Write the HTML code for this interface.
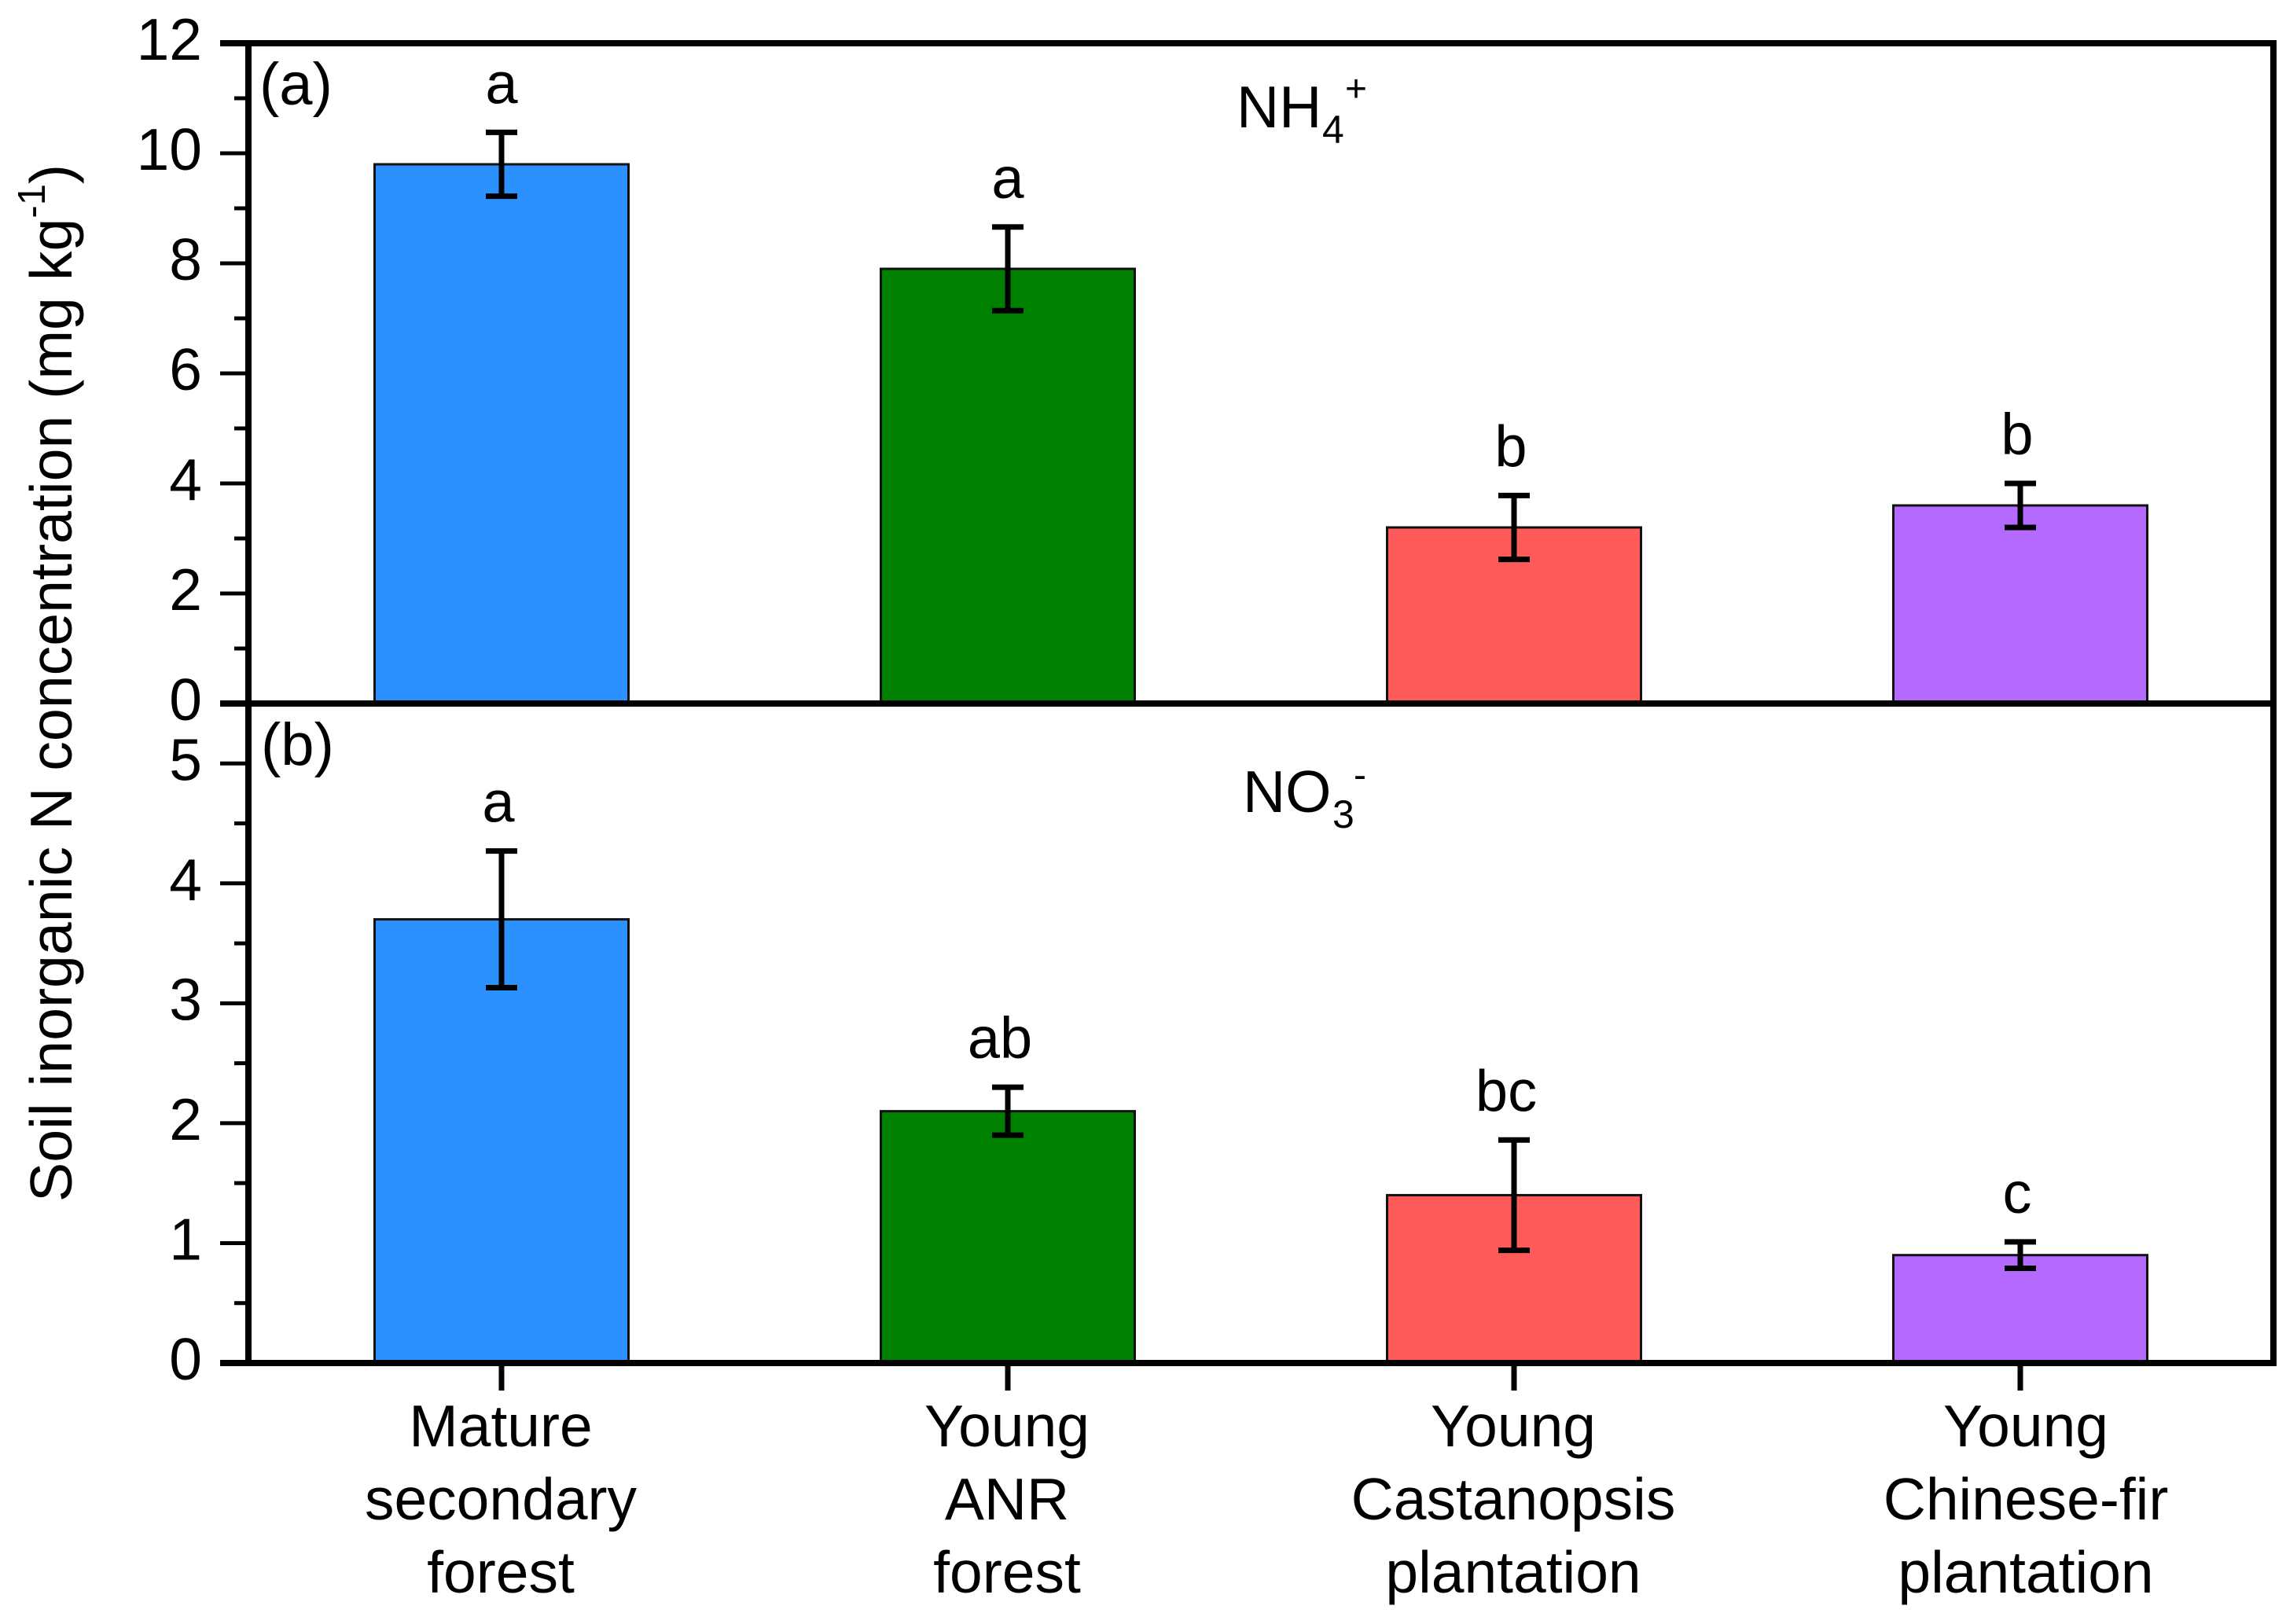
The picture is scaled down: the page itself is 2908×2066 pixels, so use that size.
<!DOCTYPE html>
<html lang="en">
<head>
<meta charset="utf-8">
<title>Soil inorganic N concentration</title>
<style>
html,body{margin:0;padding:0;background:#fff;}
svg{display:block;}
text{font-family:"Liberation Sans",sans-serif;fill:#000;}
</style>
</head>
<body>
<svg id="chart" xmlns="http://www.w3.org/2000/svg" width="2908" height="2066" viewBox="0 0 2908 2066">
  <rect x="0" y="0" width="2908" height="2066" fill="#fff"/>
  <g id="bars-layer"></g>
  <g id="axes-layer"></g>
  <g id="errors-layer"></g>
  <g id="labels-layer"></g>

  <text transform="translate(91,1529) rotate(-90)" font-size="75.3">Soil inorganic N concentration (mg kg<tspan font-size="49" dy="-34">-1</tspan><tspan dy="34">)</tspan></text>

  <text x="330" y="133" font-size="76">(a)</text>
  <text x="332" y="973" font-size="76">(b)</text>

  <g>
    <text x="1573" y="162" font-size="75">NH</text>
    <text x="1682" y="182" font-size="50">4</text>
    <text x="1711" y="129" font-size="48">+</text>
  </g>
  <g>
    <text x="1581" y="1033" font-size="75">NO</text>
    <text x="1695" y="1053" font-size="50">3</text>
    <text x="1722" y="1002" font-size="48">-</text>
  </g>
</svg>

<script>
const categoryLines = [
  ['Mature', 'secondary', 'forest'],
  ['Young', 'ANR', 'forest'],
  ['Young', 'Castanopsis', 'plantation'],
  ['Young', 'Chinese-fir', 'plantation']
];
const barColors = ['#2b91ff', '#008000', '#ff5a5a', '#b469ff'];

const ammoniumValues = [9.8, 7.9, 3.2, 3.6];
const ammoniumErrors = [0.58, 0.76, 0.58, 0.4];
const ammoniumLetters = ['a', 'a', 'b', 'b'];
const ammoniumTicks = [0, 2, 4, 6, 8, 10, 12];
const ammoniumMinorTicks = [1, 3, 5, 7, 9, 11];

const nitrateValues = [3.7, 2.1, 1.4, 0.9];
const nitrateErrors = [0.57, 0.2, 0.46, 0.11];
const nitrateLetters = ['a', 'ab', 'bc', 'c'];
const nitrateTicks = [0, 1, 2, 3, 4, 5];
const nitrateMinorTicks = [0.5, 1.5, 2.5, 3.5, 4.5];

const NS = 'http://www.w3.org/2000/svg';
const barsLayer = document.getElementById('bars-layer');
const axesLayer = document.getElementById('axes-layer');
const errorsLayer = document.getElementById('errors-layer');
const labelsLayer = document.getElementById('labels-layer');

const plotLeft = 316, plotRight = 2892, tickLeft = 280, minorLeft = 298;
const firstCenter = 638, centerStep = 644, barWidth = 323;

function xScale(i) { return firstCenter + i * centerStep; }
function yScaleA(v) { return 895 - v * 70; }
function yScaleB(v) { return 1734 - v * 152.55; }

function line(parent, x1, y1, x2, y2, width, color) {
  const el = document.createElementNS(NS, 'line');
  el.setAttribute('x1', x1);
  el.setAttribute('y1', y1);
  el.setAttribute('x2', x2);
  el.setAttribute('y2', y2);
  el.setAttribute('stroke', color || '#000');
  el.setAttribute('stroke-width', width);
  parent.appendChild(el);
  return el;
}

function label(parent, x, y, size, anchor, content) {
  const el = document.createElementNS(NS, 'text');
  el.setAttribute('x', x);
  el.setAttribute('y', y);
  el.setAttribute('font-size', size);
  el.setAttribute('text-anchor', anchor);
  el.textContent = content;
  parent.appendChild(el);
  return el;
}

function drawPanel(values, errors, letters, ticks, minorTicks, yScale, panel) {
  values.forEach(function (v, i) {
    const cx = xScale(i);
    const y0 = yScale(0);
    const yv = yScale(v);
    const bar = document.createElementNS(NS, 'rect');
    bar.setAttribute('x', cx - barWidth / 2);
    bar.setAttribute('y', yv);
    bar.setAttribute('width', barWidth);
    bar.setAttribute('height', y0 - yv);
    bar.setAttribute('fill', barColors[i]);
    bar.setAttribute('stroke', '#111');
    bar.setAttribute('stroke-width', 3);
    
    
    barsLayer.appendChild(bar);

    const top = yScale(v + errors[i]);
    const bottom = yScale(v - errors[i]);
    const stem = line(errorsLayer, cx, top, cx, bottom, 7);
    
    
    const capTop = line(errorsLayer, cx - 20, top, cx + 20, top, 7);
    
    
    const capBottom = line(errorsLayer, cx - 20, bottom, cx + 20, bottom, 7);
    
    

    const nudge = letters[i].length > 1 ? -10 : (letters[i] === 'a' && panel === 'panel-a' ? 0 : -4);
    const letter = label(labelsLayer, cx + nudge, top - 37, 74, 'middle', letters[i]);
    
    
  });

  ticks.forEach(function (t) {
    const y = yScale(t);
    const tick = line(axesLayer, tickLeft, y, plotLeft, y, 5);
    
    
    const text = label(labelsLayer, 257, y + 21, 75, 'end', String(t));
    
    
  });

  minorTicks.forEach(function (t) {
    const y = yScale(t);
    const tick = line(axesLayer, minorLeft, y, plotLeft, y, 5);
    
    
  });
}

drawPanel(ammoniumValues, ammoniumErrors, ammoniumLetters, ammoniumTicks, ammoniumMinorTicks, yScaleA, 'panel-a');
drawPanel(nitrateValues, nitrateErrors, nitrateLetters, nitrateTicks, nitrateMinorTicks, yScaleB, 'panel-b');

const spineTop = line(axesLayer, tickLeft, 55, plotRight + 4, 55, 8);


const spineMiddle = line(axesLayer, tickLeft, 895, plotRight + 4, 895, 8);


const spineBottom = line(axesLayer, tickLeft, 1734, plotRight + 4, 1734, 8);


const spineLeft = line(axesLayer, plotLeft, 51, plotLeft, 1738, 8);


const spineRight = line(axesLayer, plotRight, 51, plotRight, 1738, 8);



categoryLines.forEach(function (lines, i) {
  const cx = xScale(i);
  const tick = line(axesLayer, cx, 1734, cx, 1769, 7);
  
  
  const labelCenter = i === categoryLines.length - 1 ? cx + 7 : cx - 1;
  lines.forEach(function (content, j) {
    const text = label(labelsLayer, labelCenter, 1840 + j * 93, 75, 'middle', content);
    
    
  });
});
</script>
</body>
</html>
